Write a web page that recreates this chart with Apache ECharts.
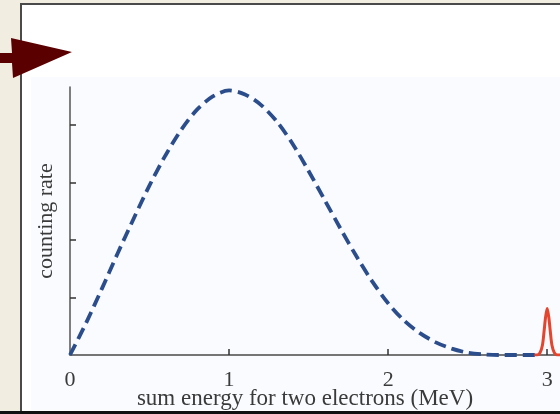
<!DOCTYPE html>
<html>
<head>
<meta charset="utf-8">
<script src="https://cdn.jsdelivr.net/npm/echarts@6/dist/echarts.min.js"></script>
<style>html,body{margin:0;padding:0;}#c{width:560px;height:414px;}</style>
</head>
<body>
<div id="c"></div>
<script>
// Two-neutrino double beta spectrum (blue dashed)
const blueX = [0, 0.1, 0.2, 0.3, 0.4, 0.5, 0.6, 0.7, 0.8, 0.9, 1.0, 1.1, 1.2, 1.3, 1.4, 1.5, 1.6, 1.7, 1.8, 1.9, 2.0, 2.1, 2.2, 2.3, 2.4, 2.5, 2.6, 2.7, 2.93];
const blueY = [0, 0.55, 1.15, 1.77, 2.37, 2.95, 3.47, 3.92, 4.27, 4.5, 4.6, 4.53, 4.35, 4.06, 3.67, 3.2, 2.7, 2.2, 1.72, 1.28, 0.9, 0.6, 0.38, 0.22, 0.11, 0.04, 0.01, 0, 0];
// Neutrinoless peak (red)
const redX = [2.92, 2.935, 2.955, 2.97, 2.98, 2.99, 3.0, 3.01, 3.02, 3.03, 3.045, 3.065, 3.08, 3.2];
const redY = [0, 0, 0.04, 0.17, 0.4, 0.66, 0.81, 0.66, 0.4, 0.17, 0.04, 0, 0, 0];
const xTickLabels = [0, 1, 2, 3];
const yTicks = [1, 2, 3, 4];
const xTitle = 'sum energy for two electrons (MeV)';
const yTitle = 'counting rate';

const serif = '"Liberation Serif", "DejaVu Serif", serif';
const chart = echarts.init(document.getElementById('c'), null, {renderer: 'canvas'});
chart.setOption({
  backgroundColor: '#f1ede1',
  animation: false,
  grid: {left: 70, top: 87, right: -19, bottom: 59, containLabel: false, outerBoundsMode: 'none'},
  xAxis: {
    type: 'value', min: 0, max: 3.2,
    axisLine: {lineStyle: {color: '#4a4a4a', width: 1.5}},
    axisTick: {inside: true, length: 6, customValues: [1, 2, 3], lineStyle: {color: '#333', width: 1.5}},
    axisLabel: {customValues: xTickLabels, fontFamily: serif, fontSize: 22, color: '#3a3a3a', margin: 14},
    splitLine: {show: false}
  },
  yAxis: {
    type: 'value', min: 0, max: 4.66,
    name: yTitle, nameLocation: 'middle', nameRotate: 90, nameGap: 13,
    nameTextStyle: {fontFamily: serif, fontSize: 22, color: '#3a3a3a'},
    axisLine: {show: true, lineStyle: {color: '#555', width: 1.5}},
    axisTick: {show: true, inside: true, length: 6, customValues: yTicks, lineStyle: {color: '#333', width: 1.5}},
    axisLabel: {show: false},
    splitLine: {show: false}
  },
  graphic: [
    {type: 'rect', z: -100, shape: {x: 21, y: 4, width: 620, height: 408}, style: {fill: '#ffffff', stroke: '#4a4a4a', lineWidth: 2}},
    {type: 'rect', z: -90, shape: {x: 31, y: 77, width: 560, height: 333}, style: {fill: '#f9fbfe'}},
    {type: 'polygon', z: 50, shape: {points: [[0, 53], [12, 53], [11, 38], [72, 52], [13, 78], [12, 63], [0, 63]]}, style: {fill: '#5a0000'}},
    {type: 'text', z: 50, style: {x: 305, y: 399, text: xTitle, align: 'center', verticalAlign: 'middle', font: '23px ' + serif, fill: '#3a3a3a'}},
    {type: 'rect', z: 60, shape: {x: 0, y: 411, width: 560, height: 3}, style: {fill: '#111'}}
  ],
  series: [
    {
      type: 'line', data: blueX.map((x, i) => [x, blueY[i]]), smooth: 0.3, showSymbol: false, z: 3,
      lineStyle: {color: '#2b4d8c', width: 3.8, type: [12, 6]}
    },
    {
      type: 'line', data: redX.map((x, i) => [x, redY[i]]), smooth: 0.3, showSymbol: false, z: 4,
      lineStyle: {color: '#e4452f', width: 3}
    }
  ]
});
</script>
</body>
</html>
